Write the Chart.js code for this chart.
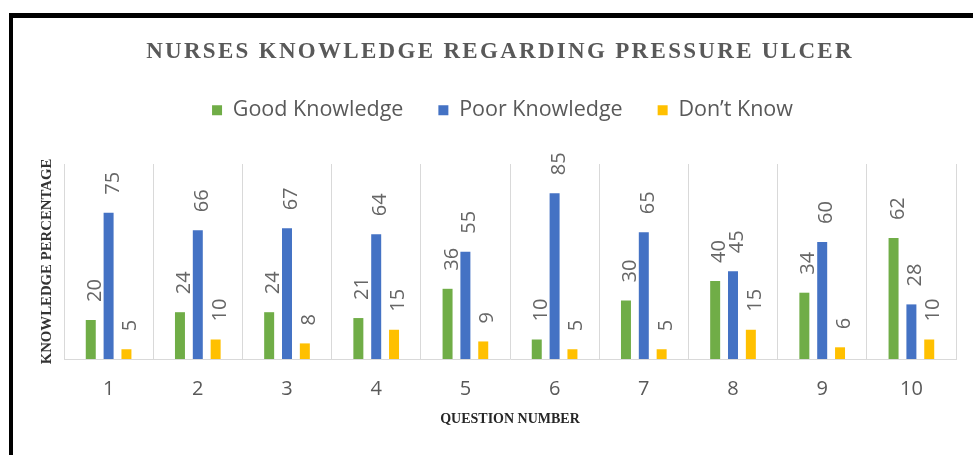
<!DOCTYPE html>
<html lang="en">
<head>
<meta charset="utf-8">
<title>Nurses knowledge regarding pressure ulcer</title>
<script src="https://cdn.jsdelivr.net/npm/chart.js@4.4.1/dist/chart.umd.min.js"></script>
<style>
  html, body { margin: 0; padding: 0; background: #fff; }
  #wrap { position: relative; width: 973px; height: 455px; overflow: hidden; }
  #knowledgeChart { display: block; }
  /* black frame of the pasted picture */
  #frame {
    position: absolute; left: 9px; top: 13px; right: -10px; bottom: -10px;
    border-top: 5px solid #000; border-left: 4px solid #000;
    pointer-events: none;
  }
</style>
</head>
<body>
<div id="wrap">
  <canvas id="knowledgeChart" width="973" height="455"></canvas>
  <div id="frame"></div>
</div>
<script>
// Data
const questions = ['1', '2', '3', '4', '5', '6', '7', '8', '9', '10'];
const goodKnowledge = [20, 24, 24, 21, 36, 10, 30, 40, 34, 62];
const poorKnowledge = [75, 66, 67, 64, 55, 85, 65, 45, 60, 28];
const dontKnow = [5, 10, 8, 15, 9, 5, 5, 15, 6, 10];
const seriesNames = ['Good Knowledge', 'Poor Knowledge', 'Don’t Know'];
const seriesColors = ['#70AD47', '#4472C4', '#FFC000'];
const chartTitle = 'NURSES KNOWLEDGE REGARDING PRESSURE ULCER';

const serif = '"Liberation Serif", "Times New Roman", serif';
Chart.defaults.font.family = '"Open Sans", sans-serif';

// Title with letter spacing (the title plugin can't do that)
const spacedTitle = {
  id: 'spacedTitle',
  afterDraw(chart) {
    const ctx = chart.ctx;
    ctx.save();
    ctx.font = 'bold 23px ' + serif;
    ctx.fillStyle = '#595959';
    ctx.textAlign = 'center';
    ctx.textBaseline = 'alphabetic';
    if ('letterSpacing' in ctx) ctx.letterSpacing = '2.3px';
    ctx.fillText(chartTitle, 500, 58);
    ctx.restore();
  }
};

// Vertical value labels above each bar
const barLabels = {
  id: 'barLabels',
  afterDatasetsDraw(chart) {
    const ctx = chart.ctx;
    ctx.save();
    ctx.font = '20px "Open Sans"';
    ctx.fillStyle = '#666666';
    ctx.textAlign = 'left';
    ctx.textBaseline = 'alphabetic';
    chart.data.datasets.forEach((ds, i) => {
      chart.getDatasetMeta(i).data.forEach((bar, j) => {
        ctx.save();
        ctx.translate(bar.x + 10, bar.y - 18);
        ctx.rotate(-Math.PI / 2);
        ctx.fillText(String(ds.data[j]), 0, 0);
        ctx.restore();
      });
    });
    ctx.restore();
  }
};

const seriesData = [goodKnowledge, poorKnowledge, dontKnow];

const ctx = document.getElementById('knowledgeChart').getContext('2d');
const chart = new Chart(ctx, {
  type: 'bar',
  data: {
    labels: questions,
    datasets: seriesData.map((values, i) => ({
      label: seriesNames[i],
      data: values,
      backgroundColor: seriesColors[i],
      borderWidth: 0,
      categoryPercentage: 0.6,
      barPercentage: 0.56,
      xAxisID: 'x',
      yAxisID: 'y'
    }))
  },
  options: {
    responsive: false,
    devicePixelRatio: 1,
    animation: false,
    layout: { padding: { top: 64.5, left: 49, right: 17, bottom: 27.6 } },
    plugins: {
      title: { display: false },
      tooltip: { enabled: false },
      legend: {
        position: 'top',
        labels: {
          boxWidth: 10,
          boxHeight: 10,
          padding: 35,
          color: '#595959',
          font: { size: 21.5 }
        }
      }
    },
    scales: {
      x: {
        type: 'category',
        grid: { color: '#d9d9d9', drawTicks: false, offset: true },
        border: { color: '#d9d9d9' },
        ticks: { color: '#595959', font: { size: 20 }, padding: 18 },
        title: {
          display: true,
          text: 'QUESTION NUMBER',
          color: '#262626',
          font: { family: serif, size: 14, weight: 'bold' },
          padding: { top: -8.4, bottom: 0 }
        }
      },
      // empty space between legend and plot
      gap: {
        type: 'category',
        axis: 'x',
        position: 'top',
        grid: { display: false },
        ticks: { display: false },
        border: { display: false },
        afterFit(scale) { scale.height = 33; }
      },
      y: {
        min: 0,
        max: 100,
        ticks: { display: false },
        grid: { display: false },
        border: { display: false },
        title: {
          display: true,
          text: 'KNOWLEDGE PERCENTAGE',
          color: '#333333',
          font: { family: serif, size: 14.8, weight: 'bold' },
          padding: { top: -10.9, bottom: 0 }
        },
        afterFit(scale) { scale.width = 15; }
      }
    }
  },
  plugins: [spacedTitle, barLabels]
});
</script>
</body>
</html>
